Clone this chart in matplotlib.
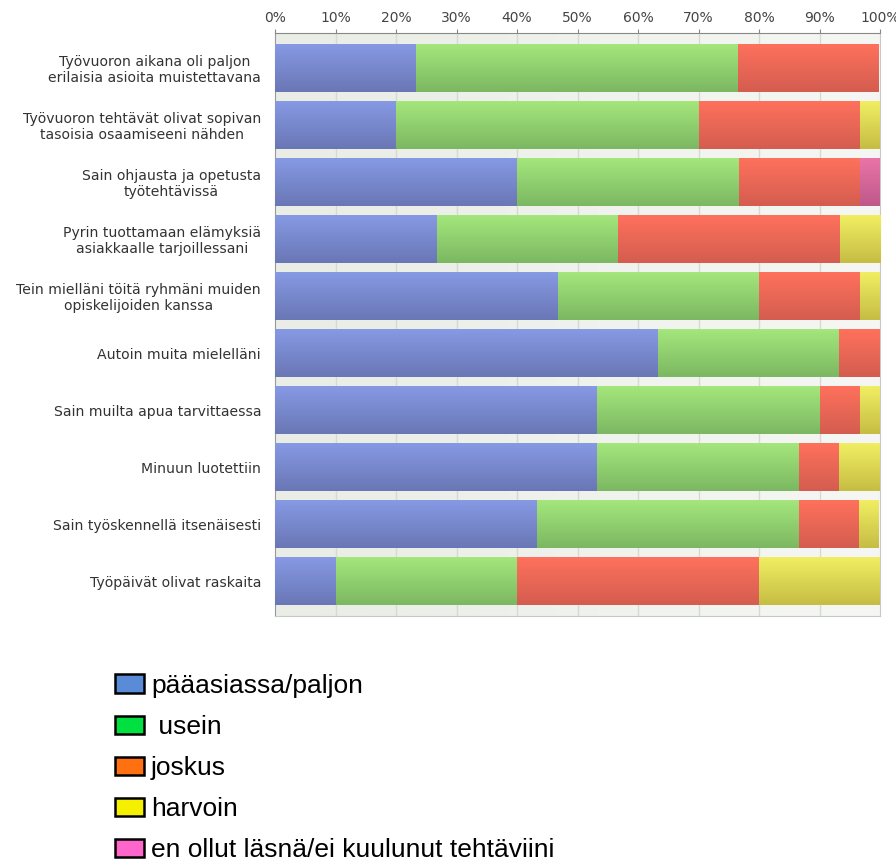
import matplotlib
matplotlib.use("Agg")
import matplotlib.pyplot as plt
import numpy as np
from matplotlib.colors import LinearSegmentedColormap
from matplotlib.patches import Patch

plt.rcParams['font.family'] = ['DejaVu Sans']

categories = [
    "Työvuoron aikana oli paljon\nerilaisia asioita muistettavana",
    "Työvuoron tehtävät olivat sopivan\ntasoisia osaamiseeni nähden",
    "Sain ohjausta ja opetusta\ntyötehtävissä",
    "Pyrin tuottamaan elämyksiä\nasiakkaalle tarjoillessani",
    "Tein mielläni töitä ryhmäni muiden\nopiskelijoiden kanssa",
    "Autoin muita mielelläni",
    "Sain muilta apua tarvittaessa",
    "Minuun luotettiin",
    "Sain työskennellä itsenäisesti",
    "Työpäivät olivat raskaita",
]

# shares in percent
paaasiassa = [23.3, 20.0, 40.0, 26.7, 46.7, 63.3, 53.3, 53.3, 43.3, 10.0]
usein      = [53.3, 50.0, 36.7, 30.0, 33.3, 30.0, 36.7, 33.3, 43.3, 30.0]
joskus     = [23.3, 26.7, 20.0, 36.7, 16.7, 6.7, 6.7, 6.7, 10.0, 40.0]
harvoin    = [0.0, 3.3, 0.0, 6.7, 3.3, 0.0, 3.3, 6.7, 3.3, 20.0]
ei_lasna   = [0.0, 0.0, 3.3, 0.0, 0.0, 0.0, 0.0, 0.0, 0.0, 0.0]

series = [paaasiassa, usein, joskus, harvoin, ei_lasna]
legend_labels = ["pääasiassa/paljon", " usein", "joskus", "harvoin",
                 "en ollut läsnä/ei kuulunut tehtäviini"]
legend_colors = ["#5a8bd6", "#00e040", "#ff7010", "#f5f000", "#ff66cc"]
# bar gradients, top -> bottom
bar_grads = [("#8699e3", "#6a77b6"), ("#a4e77c", "#7cb762"),
             ("#fe715c", "#d45d4f"), ("#f1ee62", "#c5bd44"),
             ("#e974a6", "#bf588a")]
ticks = np.arange(0, 101, 10)

fig = plt.figure(figsize=(8.96, 8.65), dpi=100)
ax = fig.add_axes([275 / 896, 1 - 616 / 865, 605 / 896, 583 / 865])

y = np.arange(len(categories))
ax.set_xlim(0, 100)
ax.set_ylim(len(categories) - 1 + 0.614, -0.614)

# light background with a faint horizontal fade
bg = np.linspace(0, 1, 256).reshape(1, -1)
bg_cmap = LinearSegmentedColormap.from_list("bg", ["#e9ede5", "#f6f7f4"])
ax.imshow(bg, cmap=bg_cmap, extent=[0, 100, len(categories) - 0.386, -0.614],
          aspect='auto', zorder=0)
for t in ticks[1:-1]:
    ax.axvline(t, color="#d6dad2", lw=1, zorder=1)

grad = np.linspace(0, 1, 64).reshape(-1, 1)
left = np.zeros(len(categories))
h = 0.84
for vals, (c_top, c_bot) in zip(series, bar_grads):
    vals = np.array(vals)
    cmap = LinearSegmentedColormap.from_list("g", [c_top, c_bot])
    bars = ax.barh(y, vals, left=left, height=h, color=c_bot, lw=0, zorder=2)
    for b, v in zip(bars, vals):
        if v <= 0:
            continue
        x0, y0 = b.get_x(), b.get_y()
        im = ax.imshow(grad, cmap=cmap, aspect='auto', zorder=3,
                       extent=[x0, x0 + b.get_width(), y0 + h, y0])
        im.set_clip_path(b)
    left += vals

ax.set_xticks(ticks)
ax.set_xticklabels([f"{t}%" for t in ticks])
ax.xaxis.tick_top()
ax.tick_params(axis='x', colors="#888888", labelcolor="#444444", labelsize=10,
               length=3, pad=3)
ax.set_yticks(y)
ax.set_yticklabels(categories, multialignment='center', linespacing=1.12)
ax.tick_params(axis='y', length=0, labelsize=10.1, labelcolor="#333333", pad=10)
for s in ax.spines.values():
    s.set_color("#c8c8c8")
ax.spines['left'].set_color("#999999")
ax.spines['top'].set_color("#888888")

handles = [Patch(facecolor=c, edgecolor="black", lw=1.8) for c in legend_colors]
fig.legend(handles, legend_labels, loc='upper left', prop={'family': 'Liberation Sans', 'size': 19},
           bbox_to_anchor=(91 / 896, 1 - 650 / 865), frameon=False,
           handlelength=1.1, handleheight=0.68, handletextpad=0.28,
           labelspacing=0.65)

fig.savefig("out.png", dpi=100)
